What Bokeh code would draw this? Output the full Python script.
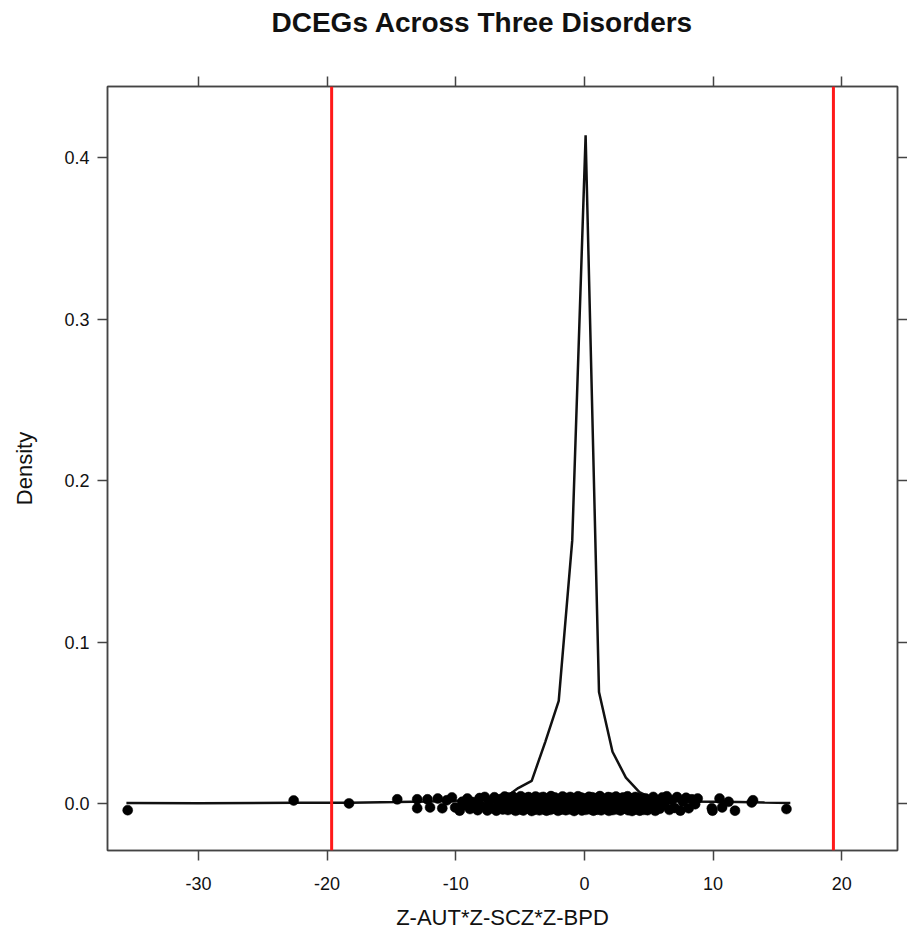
from bokeh.plotting import figure
from bokeh.models import (Span, LinearAxis, Range1d, FixedTicker, Title,
                          CustomJSTickFormatter)
from bokeh.embed import file_html
from bokeh.resources import INLINE

# Density estimate of the product score (knots of the polyline)
density_x = [-35.6, -30.0, -22.5, -18.2, -14.6, -12.0, -9.0, -7.1, -6.1, -5.15,
             -4.1, -3.05, -2.0, -0.95, 0.09, 1.13, 2.18, 3.22, 4.27, 5.3,
             6.4, 8.0, 10.0, 12.0, 14.0, 16.0]
density_y = [0.0002, 0.0001, 0.0004, 0.0004, 0.0008, 0.0012, 0.0018, 0.0025, 0.0040, 0.0095,
             0.0140, 0.0380, 0.0635, 0.163, 0.414, 0.069, 0.032, 0.016, 0.007, 0.003,
             0.0015, 0.0012, 0.0010, 0.0008, 0.0005, 0.0003]

# Individual genes, drawn as a jittered rug along zero density
core_top_x = [-5.9, -5.55, -5.3, -4.95, -4.7, -4.35, -4.05, -3.8, -3.45, -3.2, -2.85, -2.6,
              -2.3, -1.95, -1.7, -1.4, -1.1, -0.85, -0.5, -0.25, 0.05, 0.35, 0.6, 0.95,
              1.2, 1.5, 1.85, 2.1, 2.45, 2.7, 3.0, 3.35, 3.6, 3.95, 4.2, 4.55]
core_top_y = [0.0036, 0.0041, 0.0030, 0.0044, 0.0033, 0.0039, 0.0028, 0.0042, 0.0035, 0.0040,
              0.0031, 0.0045, 0.0037, 0.0029, 0.0043, 0.0034, 0.0040, 0.0032, 0.0044, 0.0036,
              0.0030, 0.0041, 0.0038, 0.0033, 0.0045, 0.0029, 0.0039, 0.0035, 0.0042, 0.0031,
              0.0037, 0.0044, 0.0030, 0.0040, 0.0034, 0.0027]
core_mid_x = [-6.1, -5.75, -5.45, -5.15, -4.85, -4.55, -4.2, -3.95, -3.6, -3.35, -3.05, -2.75,
              -2.45, -2.15, -1.85, -1.55, -1.25, -0.95, -0.65, -0.4, -0.1, 0.2, 0.5, 0.8,
              1.05, 1.35, 1.65, 1.95, 2.3, 2.55, 2.85, 3.15, 3.5, 3.75, 4.05, 4.4]
core_mid_y = [0.0004, -0.0008, 0.0012, -0.0003, 0.0009, -0.0011, 0.0002, 0.0014, -0.0006, 0.0007,
              -0.0013, 0.0003, 0.0011, -0.0009, 0.0005, -0.0002, 0.0013, -0.0010, 0.0006, -0.0004,
              0.0010, -0.0012, 0.0001, 0.0008, -0.0007, 0.0012, -0.0001, 0.0004, -0.0011, 0.0009,
              -0.0005, 0.0002, 0.0013, -0.0008, 0.0006, -0.0003]
core_bot_x = [-5.95, -5.65, -5.35, -5.0, -4.75, -4.4, -4.1, -3.85, -3.5, -3.25, -2.95, -2.65,
              -2.35, -2.05, -1.75, -1.45, -1.15, -0.8, -0.55, -0.2, 0.1, 0.4, 0.7, 1.0,
              1.3, 1.6, 1.9, 2.2, 2.5, 2.8, 3.1, 3.4, 3.7, 4.0, 4.3, 4.6]
core_bot_y = [-0.0041, -0.0035, -0.0046, -0.0038, -0.0044, -0.0032, -0.0047, -0.0039, -0.0043, -0.0036,
              -0.0045, -0.0040, -0.0033, -0.0046, -0.0038, -0.0042, -0.0037, -0.0047, -0.0034, -0.0044,
              -0.0040, -0.0036, -0.0045, -0.0039, -0.0043, -0.0035, -0.0046, -0.0041, -0.0037, -0.0044,
              -0.0032, -0.0042, -0.0047, -0.0038, -0.0045, -0.0040]
left_x = [-35.5, -22.6, -18.3, -14.55, -13.0, -13.0, -12.2, -12.0, -11.4, -11.05, -10.7, -10.3,
          -10.05, -9.7, -9.5, -9.3, -9.1, -8.9, -8.7, -8.5, -8.3, -8.15, -7.95, -7.75,
          -7.55, -7.4, -7.2, -7.0, -6.85, -6.7, -6.5, -6.35, -6.2]
left_y = [-0.0042, 0.0018, 0.0000, 0.0025, 0.0025, -0.0030, 0.0025, -0.0025, 0.0030, -0.0030, 0.0019, 0.0037,
          -0.0025, -0.0045, 0.0010, -0.0012, 0.0030, -0.0035, 0.0008, 0.0000, -0.0042, 0.0033, -0.0020, 0.0040,
          -0.0044, 0.0012, -0.0030, 0.0038, -0.0045, 0.0005, 0.0027, -0.0038, 0.0042]
right_x = [4.75, 4.9, 5.05, 5.2, 5.35, 5.5, 5.7, 5.85, 6.05, 6.2, 6.4, 6.6,
           6.8, 7.0, 7.2, 7.45, 7.65, 7.9, 8.1, 8.35, 8.6, 8.8, 9.9, 9.95,
           10.5, 10.7, 11.2, 11.7, 13.0, 13.1, 15.7]
right_y = [0.0031, -0.0042, 0.0008, -0.0025, 0.0040, -0.0046, 0.0015, -0.0033, 0.0037, -0.0010, 0.0044, -0.0040,
           0.0020, -0.0028, 0.0039, -0.0045, 0.0010, 0.0035, -0.0030, 0.0025, -0.0005, 0.0030, -0.0030, -0.0045,
           0.0030, -0.0025, 0.0010, -0.0045, 0.0006, 0.0019, -0.0035]

# Significance cut-offs
cutoffs = [-19.65, 19.35]

x_ticks = [-30, -20, -10, 0, 10, 20]
y_ticks = [0.0, 0.1, 0.2, 0.3, 0.4]

FONT = "Liberation Sans"
INK = "#111111"
FRAME = "#444444"

p = figure(width=907, height=935, output_backend="svg", toolbar_location=None,
           x_range=Range1d(-37.07, 24.33), y_range=Range1d(-0.0292, 0.4443),
           x_axis_label="Z-AUT*Z-SCZ*Z-BPD", y_axis_label="Density",
           min_border_left=107, min_border_right=9, min_border_top=0, min_border_bottom=85)
p.grid.visible = False
p.background_fill_color = "white"
p.border_fill_color = "white"
p.outline_line_color = FRAME
p.outline_line_width = 1.5

bottom_axis = p.below[0]
left_axis = p.left[0]
top_axis = LinearAxis()
right_axis = LinearAxis()
p.add_layout(top_axis, "above")
p.add_layout(right_axis, "right")

for ax in [bottom_axis, top_axis]:
    ax.ticker = FixedTicker(ticks=x_ticks)
for ax in [left_axis, right_axis]:
    ax.ticker = FixedTicker(ticks=y_ticks)

for ax in [bottom_axis, left_axis, top_axis, right_axis]:
    ax.major_tick_out = 10
    ax.major_tick_in = 0
    ax.minor_tick_out = 0
    ax.minor_tick_in = 0
    ax.axis_line_color = FRAME
    ax.axis_line_width = 1.5
    ax.major_tick_line_color = FRAME
    ax.major_tick_line_width = 1.5
    ax.major_label_text_font = FONT
    ax.major_label_text_font_size = "18px"
    ax.major_label_text_color = INK
    ax.axis_label_text_font = FONT
    ax.axis_label_text_font_size = "22px"
    ax.axis_label_text_font_style = "normal"
    ax.axis_label_text_color = INK

# mirrored axes carry ticks only
top_axis.major_label_overrides = {t: "" for t in x_ticks}
right_axis.major_label_overrides = {t: "" for t in y_ticks}
top_axis.major_label_standoff = 0
right_axis.major_label_standoff = 0

# blank band between the top ticks and the title
spacer = LinearAxis(ticker=FixedTicker(ticks=[0]), major_tick_out=35, major_tick_in=0,
                    minor_tick_out=0, minor_tick_in=0, major_label_standoff=0,
                    major_label_overrides={0: ""}, axis_line_alpha=0,
                    major_tick_line_alpha=0)
p.add_layout(spacer, "above")

bottom_axis.major_label_standoff = 16
bottom_axis.axis_label_standoff = 12
bottom_axis.formatter = CustomJSTickFormatter(code="return String(tick);")
left_axis.major_label_standoff = 8
left_axis.axis_label_standoff = 24
left_axis.formatter = CustomJSTickFormatter(code="return tick.toFixed(1);")

# chart title
p.title = Title(text="DCEGs Across Three Disorders", align="left", offset=164,
                standoff=8, text_font=FONT, text_font_size="28px",
                text_font_style="bold", text_color=INK)

for c in cutoffs:
    p.add_layout(Span(location=c, dimension="height", line_color="#ff1a1a", line_width=3))

p.line(density_x, density_y, line_color=INK, line_width=2.5)

pts_x = core_top_x + core_mid_x + core_bot_x + left_x + right_x
pts_y = core_top_y + core_mid_y + core_bot_y + left_y + right_y
p.scatter(pts_x, pts_y, size=10, marker="circle", fill_color="#000000",
          line_color="#000000", line_width=0.5)

open("out.html", "w").write(file_html(p, INLINE))
